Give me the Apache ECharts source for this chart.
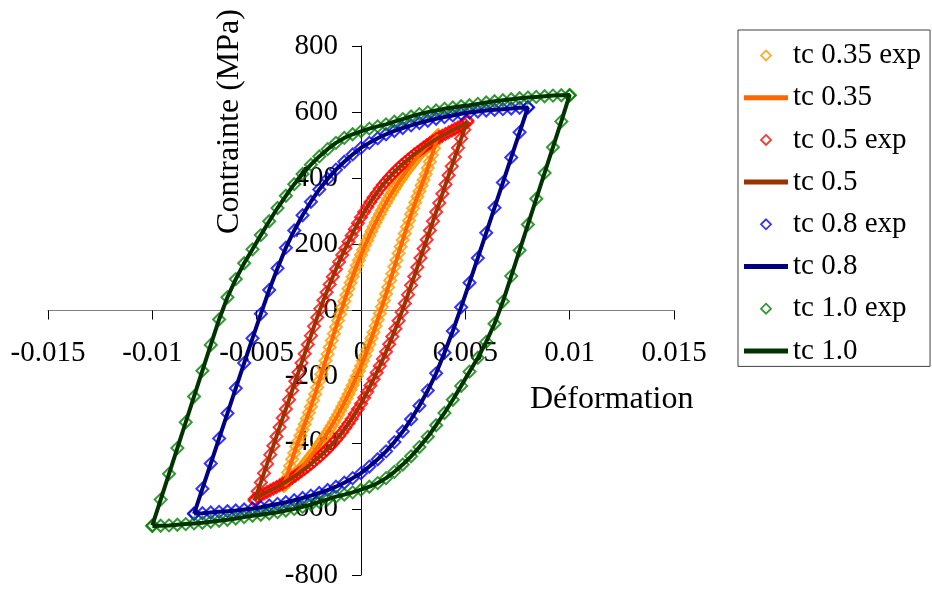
<!DOCTYPE html>
<html>
<head>
<meta charset="utf-8">
<script src="https://cdn.jsdelivr.net/npm/echarts@6/dist/echarts.min.js"></script>
<style>
html,body{margin:0;padding:0;background:#fff;}
#chart{width:932px;height:589px;}
</style>
</head>
<body>
<div id="chart"></div>
<script>
// ---------- DATA ----------
const seriesNames = ['tc 0.35 exp', 'tc 0.35', 'tc 0.5 exp', 'tc 0.5', 'tc 0.8 exp', 'tc 0.8', 'tc 1.0 exp', 'tc 1.0'];

// tc 0.35 loop : rising branch then falling branch
const tc035_strain_up = [-0.0037,-0.0036,-0.0035,-0.0034,-0.0033,-0.0032,-0.0031,-0.0030,-0.0029,-0.0028,-0.0027,-0.0026,-0.0025,-0.0024,-0.0023,-0.0022,-0.0021,-0.0020,-0.0019,-0.0018,-0.0017,-0.0016,-0.0015,-0.0014,-0.0013,-0.0012,-0.0011,-0.0010,-0.0009,-0.0008,-0.0007,-0.0006,-0.0005,-0.0004,-0.0003,-0.0002,-0.0001,0,0.0001,0.0002,0.0003,0.0004,0.0005,0.0006,0.0007,0.0008,0.0009,0.0010,0.0011,0.0012,0.0013,0.0014,0.0015,0.0016,0.0017,0.0018,0.0019,0.0020,0.0021,0.0022,0.0023,0.0024,0.0025,0.0026,0.0027,0.0028,0.0029,0.0030,0.0031,0.0032,0.0033,0.0034,0.0035,0.0036,0.0037];
const tc035_stress_up = [-530,-510,-490,-470,-450,-431,-412,-395,-378,-361,-344,-327,-309,-291,-272,-253,-233,-213,-193,-173,-152,-132,-111,-91,-70,-50,-30,-11,9,28,47,66,84,102,119,136,152,168,183,198,212,226,240,253,266,279,291,303,315,326,337,348,358,368,378,388,397,406,415,424,432,440,448,456,464,472,479,486,493,500,506,512,518,524,530];
const tc035_strain_down = [0.0037,0.0036,0.0035,0.0034,0.0033,0.0032,0.0031,0.0030,0.0029,0.0028,0.0027,0.0026,0.0025,0.0024,0.0023,0.0022,0.0021,0.0020,0.0019,0.0018,0.0017,0.0016,0.0015,0.0014,0.0013,0.0012,0.0011,0.0010,0.0009,0.0008,0.0007,0.0006,0.0005,0.0004,0.0003,0.0002,0.0001,0,-0.0001,-0.0002,-0.0003,-0.0004,-0.0005,-0.0006,-0.0007,-0.0008,-0.0009,-0.0010,-0.0011,-0.0012,-0.0013,-0.0014,-0.0015,-0.0016,-0.0017,-0.0018,-0.0019,-0.0020,-0.0021,-0.0022,-0.0023,-0.0024,-0.0025,-0.0026,-0.0027,-0.0028,-0.0029,-0.0030,-0.0031,-0.0032,-0.0033,-0.0034,-0.0035,-0.0036,-0.0037];
const tc035_stress_down = [530,510,490,470,450,431,412,395,378,361,344,327,309,291,272,253,233,213,193,173,152,132,111,91,70,50,30,11,-9,-28,-47,-66,-84,-102,-119,-136,-152,-168,-183,-198,-212,-226,-240,-253,-266,-279,-291,-303,-315,-326,-337,-348,-358,-368,-378,-388,-397,-406,-415,-424,-432,-440,-448,-456,-464,-472,-479,-486,-493,-500,-506,-512,-518,-524,-530];

// tc 0.5 loop
const tc05_strain_up = [-0.0051,-0.00495,-0.0048,-0.00465,-0.0045,-0.00435,-0.0042,-0.00405,-0.0039,-0.00375,-0.0036,-0.00345,-0.0033,-0.00315,-0.003,-0.00285,-0.0027,-0.00255,-0.0024,-0.00225,-0.0021,-0.00195,-0.0018,-0.00165,-0.0015,-0.00135,-0.0012,-0.00105,-0.0009,-0.00075,-0.0006,-0.00045,-0.0003,-0.00015,0,0.00015,0.0003,0.00045,0.0006,0.00075,0.0009,0.00105,0.0012,0.00135,0.0015,0.00165,0.0018,0.00195,0.0021,0.00225,0.0024,0.00255,0.0027,0.00285,0.003,0.00315,0.0033,0.00345,0.0036,0.00375,0.0039,0.00405,0.0042,0.00435,0.0045,0.00465,0.0048,0.00495,0.0051];
const tc05_stress_up = [-575,-547,-520,-492,-464,-436,-409,-381,-353,-325,-298,-270,-242,-214,-187,-159,-131,-103,-76,-48,-21,5,31,55,79,102,125,147,168,188,208,227,246,264,282,298,313,328,342,355,368,380,391,402,412,422,431,440,448,456,464,472,479,486,493,500,506,512,518,524,529,534,539,544,549,554,559,564,570];
const tc05_strain_down = [0.0051,0.00495,0.0048,0.00465,0.0045,0.00435,0.0042,0.00405,0.0039,0.00375,0.0036,0.00345,0.0033,0.00315,0.003,0.00285,0.0027,0.00255,0.0024,0.00225,0.0021,0.00195,0.0018,0.00165,0.0015,0.00135,0.0012,0.00105,0.0009,0.00075,0.0006,0.00045,0.0003,0.00015,0,-0.00015,-0.0003,-0.00045,-0.0006,-0.00075,-0.0009,-0.00105,-0.0012,-0.00135,-0.0015,-0.00165,-0.0018,-0.00195,-0.0021,-0.00225,-0.0024,-0.00255,-0.0027,-0.00285,-0.003,-0.00315,-0.0033,-0.00345,-0.0036,-0.00375,-0.0039,-0.00405,-0.0042,-0.00435,-0.0045,-0.00465,-0.0048,-0.00495,-0.0051];
const tc05_stress_down = [575,547,520,492,464,436,409,381,353,325,298,270,242,214,187,159,131,103,76,48,21,-5,-31,-55,-79,-102,-125,-147,-168,-188,-208,-227,-246,-264,-282,-298,-313,-328,-342,-355,-368,-380,-391,-402,-412,-422,-431,-440,-448,-456,-464,-472,-479,-486,-493,-500,-506,-512,-518,-524,-529,-534,-539,-544,-549,-554,-559,-564,-570];

// tc 0.8 loop
const tc08_strain_up = [-0.0080,-0.0076,-0.0072,-0.0068,-0.0064,-0.0060,-0.0056,-0.0052,-0.0048,-0.0044,-0.0040,-0.0036,-0.0032,-0.0028,-0.0024,-0.0020,-0.0016,-0.0012,-0.0008,-0.0004,0,0.0004,0.0008,0.0012,0.0016,0.0020,0.0024,0.0028,0.0032,0.0036,0.0040,0.0044,0.0048,0.0052,0.0056,0.0060,0.0064,0.0068,0.0072,0.0076,0.0080];
const tc08_stress_up = [-615,-539,-463,-387,-311,-235,-159,-84,-10,62,128,190,242,288,329,366,398,426,450,472,492,507,521,533,543,552,560,567,574,580,585,590,595,599,602,605,607,609,611,613,614];
const tc08_strain_down = [0.0080,0.0076,0.0072,0.0068,0.0064,0.0060,0.0056,0.0052,0.0048,0.0044,0.0040,0.0036,0.0032,0.0028,0.0024,0.0020,0.0016,0.0012,0.0008,0.0004,0,-0.0004,-0.0008,-0.0012,-0.0016,-0.0020,-0.0024,-0.0028,-0.0032,-0.0036,-0.0040,-0.0044,-0.0048,-0.0052,-0.0056,-0.0060,-0.0064,-0.0068,-0.0072,-0.0076,-0.0080];
const tc08_stress_down = [615,539,463,387,311,235,159,84,10,-62,-128,-190,-242,-288,-329,-366,-398,-426,-450,-472,-492,-507,-521,-533,-543,-552,-560,-567,-574,-580,-585,-590,-595,-599,-602,-605,-607,-609,-611,-613,-614];

// tc 1.0 loop
const tc10_strain_up = [-0.0100,-0.0096,-0.0092,-0.0088,-0.0084,-0.0080,-0.0076,-0.0072,-0.0068,-0.0064,-0.0060,-0.0056,-0.0052,-0.0048,-0.0044,-0.0040,-0.0036,-0.0032,-0.0028,-0.0024,-0.0020,-0.0016,-0.0012,-0.0008,-0.0004,0,0.0004,0.0008,0.0012,0.0016,0.0020,0.0024,0.0028,0.0032,0.0036,0.0040,0.0044,0.0048,0.0052,0.0056,0.0060,0.0064,0.0068,0.0072,0.0076,0.0080,0.0084,0.0088,0.0092,0.0096,0.0100];
const tc10_stress_up = [-650,-572,-494,-416,-338,-260,-182,-104,-27,40,95,143,185,228,270,310,347,382,413,441,466,488,507,522,533,542,550,557,563,571,579,587,594,600,605,610,614,618,621,625,629,633,636,639,642,644,646,648,650,651,652];
const tc10_strain_down = [0.0100,0.0096,0.0092,0.0088,0.0084,0.0080,0.0076,0.0072,0.0068,0.0064,0.0060,0.0056,0.0052,0.0048,0.0044,0.0040,0.0036,0.0032,0.0028,0.0024,0.0020,0.0016,0.0012,0.0008,0.0004,0,-0.0004,-0.0008,-0.0012,-0.0016,-0.0020,-0.0024,-0.0028,-0.0032,-0.0036,-0.0040,-0.0044,-0.0048,-0.0052,-0.0056,-0.0060,-0.0064,-0.0068,-0.0072,-0.0076,-0.0080,-0.0084,-0.0088,-0.0092,-0.0096,-0.0100];
const tc10_stress_down = [650,572,494,416,338,260,182,104,27,-40,-95,-143,-185,-228,-270,-310,-347,-382,-413,-441,-466,-488,-507,-522,-533,-542,-550,-557,-563,-571,-579,-587,-594,-600,-605,-610,-614,-618,-621,-625,-629,-633,-636,-639,-642,-644,-646,-648,-650,-651,-652];

// axis ticks
const xTicks = [-0.015, -0.01, -0.005, 0, 0.005, 0.01, 0.015];
const yTicks = [-800, -600, -400, -200, 0, 200, 400, 600, 800];

// ---------- CHART ----------
function loop(su, tu, sd, td) {
  const pts = su.map((v, i) => [v, tu[i]]);
  return pts.concat(sd.map((v, i) => [v, td[i]]));
}
const loops = [
  loop(tc035_strain_up, tc035_stress_up, tc035_strain_down, tc035_stress_down),
  loop(tc05_strain_up, tc05_stress_up, tc05_strain_down, tc05_stress_down),
  loop(tc08_strain_up, tc08_stress_up, tc08_strain_down, tc08_stress_down),
  loop(tc10_strain_up, tc10_stress_up, tc10_strain_down, tc10_stress_down)
];
const expColors = ['#FF9900', '#FF0000', '#0000FF', '#008000'];
const lineColors = ['#FF6600', '#993300', '#000080', '#003300'];

const FONT = '"Liberation Serif", "Times New Roman", serif';
const DIAMOND = 'path://M5,0L10,5L5,10L0,5Z';
const BAR = 'path://M0,0H44V5H0Z';

// grid geometry
const W = 932, H = 589;
const G = { left: 48, right: 258, top: 46, bottom: 14 };
const gridW = W - G.left - G.right;
const gridH = H - G.top - G.bottom;
const xMin = xTicks[0], xMax = xTicks[xTicks.length - 1];
const yMin = yTicks[0], yMax = yTicks[yTicks.length - 1];
// place the axes where the other axis is zero (axes cross at the origin)
const xAxisOffset = -gridH * (0 - yMin) / (yMax - yMin);
const yAxisOffset = -gridW * (0 - xMin) / (xMax - xMin);

const series = [];
const legendData = [];
loops.forEach((d, k) => {
  series.push({
    name: seriesNames[2 * k], type: 'scatter', data: d,
    symbol: 'diamond', symbolSize: 12,
    itemStyle: { color: 'rgba(255,255,255,0)', borderColor: expColors[k], borderWidth: 2 },
    emphasis: { disabled: true }
  });
  series.push({
    name: seriesNames[2 * k + 1], type: 'line', data: d,
    symbol: 'none', showSymbol: false,
    itemStyle: { color: lineColors[k] },
    lineStyle: { color: lineColors[k], width: 4 },
    emphasis: { disabled: true }
  });
  legendData.push({ name: seriesNames[2 * k], icon: DIAMOND,
    itemStyle: { color: 'rgba(255,255,255,0)', borderColor: expColors[k], borderWidth: 1.8 } });
  legendData.push({ name: seriesNames[2 * k + 1], icon: BAR,
    itemStyle: { color: lineColors[k], borderWidth: 0 } });
});

const chart = echarts.init(document.getElementById('chart'), null, { renderer: 'canvas' });
chart.setOption({
  animation: false,
  backgroundColor: '#ffffff',
  textStyle: { fontFamily: FONT },
  grid: { left: G.left, right: G.right, top: G.top, bottom: G.bottom, outerBoundsMode: 'none', containLabel: false },
  xAxis: {
    type: 'value', min: xMin, max: xMax, interval: 0.005,
    position: 'bottom', offset: xAxisOffset,
    axisLine: { onZero: false, lineStyle: { color: '#808080', width: 1 } },
    axisTick: { show: true, length: 9, lineStyle: { color: '#000' } },
    axisLabel: { margin: 28, fontSize: 29, color: '#000', fontFamily: FONT,
      formatter: v => String(parseFloat(Number(v).toFixed(4))) },
    splitLine: { show: false },
    name: 'Déformation', nameLocation: 'end', nameGap: -144,
    nameTextStyle: { fontSize: 32, color: '#000', fontFamily: FONT, align: 'left', verticalAlign: 'top', padding: [73, 0, 0, 0] }
  },
  yAxis: {
    type: 'value', min: yMin, max: yMax, interval: 200,
    position: 'left', offset: yAxisOffset,
    axisLine: { onZero: false, lineStyle: { color: '#000', width: 1 } },
    axisTick: { show: true, length: 9, lineStyle: { color: '#000' } },
    axisLabel: { margin: 23, fontSize: 29, color: '#000', fontFamily: FONT },
    splitLine: { show: false },
    name: 'Contrainte (MPa)', nameLocation: 'middle', nameRotate: 90, nameGap: 131,
    nameTextStyle: { fontSize: 32, color: '#000', fontFamily: FONT, align: 'center', verticalAlign: 'middle', padding: [0, 0, 0, 378] }
  },
  legend: {
    orient: 'vertical', left: 738, top: 30,
    itemWidth: 44, itemHeight: 10, itemGap: 13.2,
    padding: [11, 9, 1, 6],
    borderColor: '#404040', borderWidth: 1, borderRadius: 0, backgroundColor: '#fff',
    textStyle: { fontSize: 29, color: '#000', fontFamily: FONT, lineHeight: 24 },
    lineStyle: { width: 5 },
    symbolKeepAspect: true,
    data: legendData
  },
  series: series
});
</script>
</body>
</html>
